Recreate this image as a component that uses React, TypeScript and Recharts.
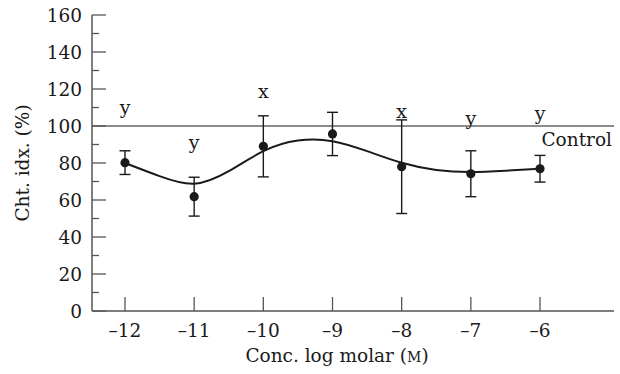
import React from 'react';
import {
  ComposedChart, Line, Scatter, XAxis, YAxis, ErrorBar, ReferenceLine,
} from 'recharts';

const concentrations = [-12, -11, -10, -9, -8, -7, -6];
const meanValues = [80.2, 61.8, 89, 95.7, 78, 74.2, 76.9];
const errorValues = [6.4, 10.5, 16.5, 11.7, 25.3, 12.4, 7.2];
const groupLetters = ['y', 'y', 'x', '', 'x', 'y', 'y'];
const letterHeights = [106.4, 87.5, 115, 0, 104.2, 100.4, 103];

const curveX = [-12, -11.5, -11, -10.5, -10, -9.5, -9, -8.5, -8, -7.5, -7, -6.5, -6];
const curveY = [80, 72.9, 68.8, 75.6, 86.4, 92.1, 91.8, 86.4, 80.1, 76.2, 75.1, 75.8, 76.9];

const yTicks = [0, 10, 20, 30, 40, 50, 60, 70, 80, 90, 100, 110, 120, 130, 140, 150, 160];
const xTicks = [-12, -11, -10, -9, -8, -7, -6];
const controlValue = 100;

const means = concentrations.map((x, i) => ({ x, y: meanValues[i], err: errorValues[i] }));
const letters = concentrations
  .map((x, i) => ({ x, y: letterHeights[i], letter: groupLetters[i] }))
  .filter((d) => d.letter !== '');
const curve = curveX.map((x, i) => ({ x, y: curveY[i] }));

const FONT = 'DejaVu Serif';
const FS = 18.5;
const AXIS = '#555';
const INK = '#1a1a1a';

const YTick = (props: any) => {
  const { x, y, payload } = props;
  const v = payload.value;
  const major = v % 20 === 0;
  return (
    <g>
      <line x1={x} y1={y} x2={x + (major ? 14 : 7)} y2={y} stroke={AXIS} strokeWidth={1.3} />
      {major && (
        <text x={x - 10} y={y} dy="0.36em" textAnchor="end" fontFamily={FONT} fontSize={FS} fill={INK}>
          {v}
        </text>
      )}
    </g>
  );
};

const XTick = (props: any) => {
  const { x, y, payload } = props;
  const v = payload.value;
  return (
    <g>
      <line x1={x} y1={y} x2={x} y2={y - 14} stroke={AXIS} strokeWidth={1.3} />
      <text x={x} y={y + 26} textAnchor="middle" fontFamily={FONT} fontSize={FS} fill={INK}>
        {v < 0 ? '\u2013' + Math.abs(v) : String(v)}
      </text>
    </g>
  );
};

const LetterShape = (props: any) => {
  const { cx, cy, payload } = props;
  return (
    <text x={cx} y={cy} textAnchor="middle" fontFamily={FONT} fontSize={19} fill={INK}>
      {payload.letter}
    </text>
  );
};

const DotShape = (props: any) => {
  const { cx, cy } = props;
  return <circle cx={cx} cy={cy} r={4.6} fill={INK} />;
};

export default function App() {
  return (
    <div style={{ position: 'absolute', left: 0, top: 0, width: 620, height: 374, background: '#fff' }}>
      <ComposedChart width={620} height={374} margin={{ top: 15, right: 6, bottom: 0, left: 0 }}>
        <XAxis
          xAxisId="main"
          type="number"
          dataKey="x"
          domain={[-12, -6]}
          ticks={xTicks}
          padding={{ left: 33, right: 74 }}
          height={63}
          tickSize={0}
          tickMargin={0}
          tickLine={false}
          axisLine={{ stroke: AXIS, strokeWidth: 1.5 }}
          tick={<XTick />}
        />
        <XAxis
          xAxisId="top"
          orientation="top"
          type="number"
          domain={[0, 1]}
          height={0}
          tick={false}
          tickLine={false}
          axisLine={{ stroke: AXIS, strokeWidth: 1.5 }}
        />
        <YAxis
          yAxisId="main"
          type="number"
          domain={[0, 160]}
          ticks={yTicks}
          width={92}
          tickSize={0}
          tickMargin={0}
          tickLine={false}
          axisLine={{ stroke: AXIS, strokeWidth: 1.5 }}
          tick={<YTick />}
          interval={0}
        />
        <YAxis
          yAxisId="right"
          orientation="right"
          type="number"
          domain={[0, 1]}
          width={0}
          tick={false}
          tickLine={false}
          axisLine={{ stroke: AXIS, strokeWidth: 1.5 }}
        />
        <ReferenceLine
          xAxisId="main"
          yAxisId="main"
          y={controlValue}
          stroke="#666"
          strokeWidth={1.3}
          label={(p: any) => {
            const vb = p.viewBox;
            return (
              <text x={vb.x + vb.width - 2} y={vb.y + 20} textAnchor="end" fontFamily={FONT} fontSize={FS} fill={INK}>
                Control
              </text>
            );
          }}
        />
        <Line
          xAxisId="main"
          yAxisId="main"
          data={curve}
          dataKey="y"
          type="natural"
          stroke={INK}
          strokeWidth={2}
          dot={false}
          activeDot={false}
          isAnimationActive={false}
        />
        <Scatter
          xAxisId="main"
          yAxisId="main"
          data={means}
          dataKey="y"
          shape={<DotShape />}
          isAnimationActive={false}
        >
          <ErrorBar dataKey="err" direction="y" width={5.5} stroke={INK} strokeWidth={1.4} isAnimationActive={false} />
        </Scatter>
        <Scatter
          xAxisId="main"
          yAxisId="main"
          data={letters}
          dataKey="y"
          shape={<LetterShape />}
          isAnimationActive={false}
        />
        <text x={22} y={163} transform="rotate(-90 22 163)" textAnchor="middle" dy="0.36em" fontFamily={FONT} fontSize={FS} fill={INK}>
          Cht. idx. (%)
        </text>
        <text x={337} y={362} textAnchor="middle" fontFamily={FONT} fontSize={FS} fill={INK}>
          Conc. log molar (<tspan fontSize={14}>M</tspan>)
        </text>
      </ComposedChart>
    </div>
  );
}
